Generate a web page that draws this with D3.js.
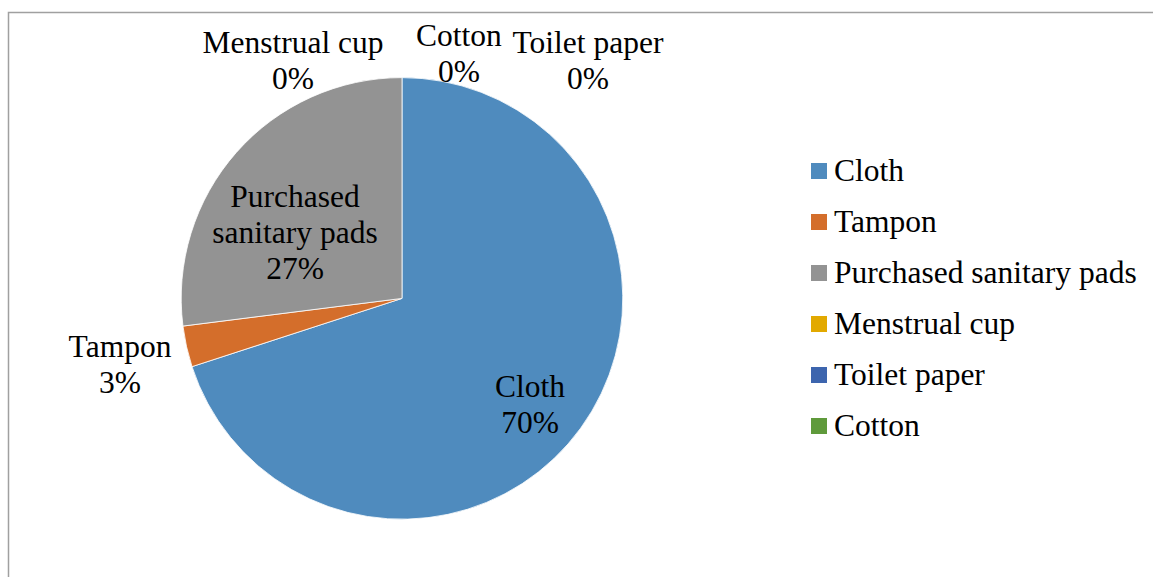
<!DOCTYPE html>
<html>
<head>
<meta charset="utf-8">
<script src="https://cdn.jsdelivr.net/npm/d3@7"></script>
<style>
  html, body { margin: 0; padding: 0; background: #fff; }
  svg { display: block; }
  text { font-family: "Liberation Serif", "Times New Roman", serif; fill: #000; }
</style>
</head>
<body>
<svg id="chart" width="1153" height="577"></svg>
<script>
// Menstrual product usage shares (percent)
const categories = ["Cloth", "Tampon", "Purchased sanitary pads", "Menstrual cup", "Toilet paper", "Cotton"];
const shares = [70, 3, 27, 0, 0, 0];
const colors = ["#4f8bbe", "#d46e2b", "#939393", "#e2a900", "#3d65ae", "#5f9a3b"];

// Data label lines per category (name split across lines where it wraps)
const labelLines = [["Cloth"], ["Tampon"], ["Purchased", "sanitary pads"], ["Menstrual cup"], ["Toilet paper"], ["Cotton"]];

const W = 1153, H = 577;
const cx = 402, cy = 298.4, R = 220.8;
const fontSize = 31.5, lineH = 36;

// Label anchor (centre x, first baseline y) for each data label
const labelPos = [
  [530, 397],
  [120, 357],
  [295, 207],
  [293, 53],
  [588, 53],
  [459, 46]
];

const svg = d3.select("#chart");

// Chart area border
svg.append("rect")
  .attr("x", 8.5).attr("y", 12.5)
  .attr("width", W + 20).attr("height", H + 20)
  .attr("fill", "none")
  .attr("stroke", "#a0a0a0")
  .attr("stroke-width", 1.5);

const data = categories.map((c, i) => ({ name: c, value: shares[i], color: colors[i], idx: i }));
const total = d3.sum(shares);
const pct = d3.format(".0%");

const pie = d3.pie().sort(null).value(d => d.value).startAngle(0).endAngle(2 * Math.PI);
const arc = d3.arc().innerRadius(0).outerRadius(R);
const arcs = pie(data);

const g = svg.append("g").attr("transform", `translate(${cx},${cy})`);
g.selectAll("path.slice")
  .data(arcs.filter(a => a.data.value > 0))
  .join("path")
  .attr("class", "slice")
  .attr("d", arc)
  .attr("fill", d => d.data.color)
  .attr("stroke", "#ffffff")
  .attr("stroke-width", 0.8);

// Data labels: category name + percentage
const labels = svg.append("g");
arcs.forEach(a => {
  const d = a.data;
  const [lx, ly] = labelPos[d.idx];
  const lines = labelLines[d.idx].concat([pct(d.value / total)]);
  const t = labels.append("text")
    .attr("text-anchor", "middle")
    .attr("font-size", fontSize);
  lines.forEach((ln, k) => {
    t.append("tspan").attr("x", lx).attr("y", ly + k * lineH).text(ln);
  });
});

// Legend
const legend = svg.append("g").attr("transform", "translate(811,163)");
const rows = legend.selectAll("g.row")
  .data(data)
  .join("g")
  .attr("class", "row")
  .attr("transform", (d, i) => `translate(0,${i * 51})`);
rows.append("rect")
  .attr("width", 16).attr("height", 16)
  .attr("fill", d => d.color);
rows.append("text")
  .attr("x", 23).attr("y", 18)
  .attr("font-size", fontSize)
  .text(d => d.name);
</script>
</body>
</html>
